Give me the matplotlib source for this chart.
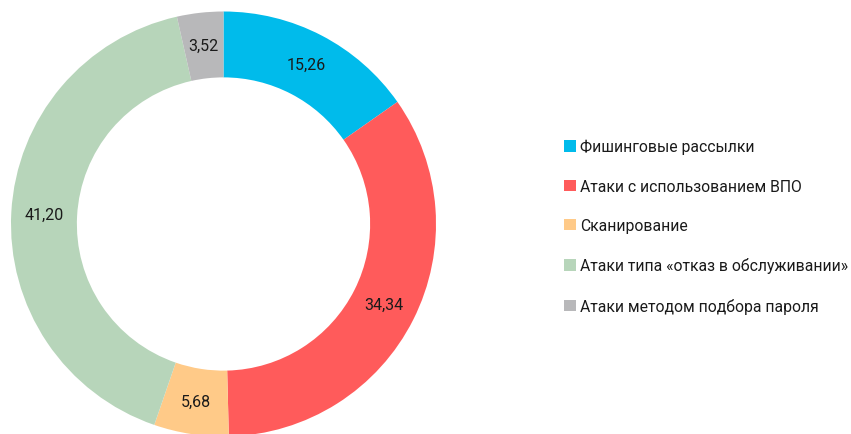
import matplotlib.pyplot as plt
import numpy as np

plt.rcParams['font.family'] = ['Roboto', 'DejaVu Sans']

labels = ['Фишинговые рассылки', 'Атаки с использованием ВПО', 'Сканирование',
          'Атаки типа «отказ в обслуживании»', 'Атаки методом подбора пароля']
values = [15.26, 34.34, 5.68, 41.20, 3.52]
colors = ['#00BBEB', '#FF5B5B', '#FFCA88', '#B7D5BA', '#B8B8BA']

fig = plt.figure(figsize=(8.51, 4.35), dpi=100)
W, H = 851, 435
cx, cy, R = 223.5, 435 - 225, 212.5
ax = fig.add_axes([(cx - R) / W, (cy - R) / H, 2 * R / W, 2 * R / H])

# donut, clockwise from the top
wedges, texts = ax.pie(values, colors=colors, startangle=90, counterclock=False,
                       radius=1, wedgeprops=dict(width=0.31, linewidth=0))
for w, v in zip(wedges, values):
    ang = np.deg2rad((w.theta1 + w.theta2) / 2)
    r = 1 - 0.31 / 2
    ax.text(r * np.cos(ang), r * np.sin(ang), f'{v:.2f}'.replace('.', ','),
            ha='center', va='center', fontsize=11.5, color='#1a1a1a')
ax.set_xlim(-1, 1)
ax.set_ylim(-1, 1)
ax.set_aspect('equal')
ax.axis('off')

fig.legend(wedges, labels, loc='center left', bbox_to_anchor=(564 / W, 207.5 / H),
           frameon=False, fontsize=11.3, handlelength=0.75, handleheight=0.75,
           handletextpad=0.25, labelspacing=1.55, borderpad=0, borderaxespad=0,
           labelcolor='#1a1a1a')

fig.savefig('out.png', dpi=100)
